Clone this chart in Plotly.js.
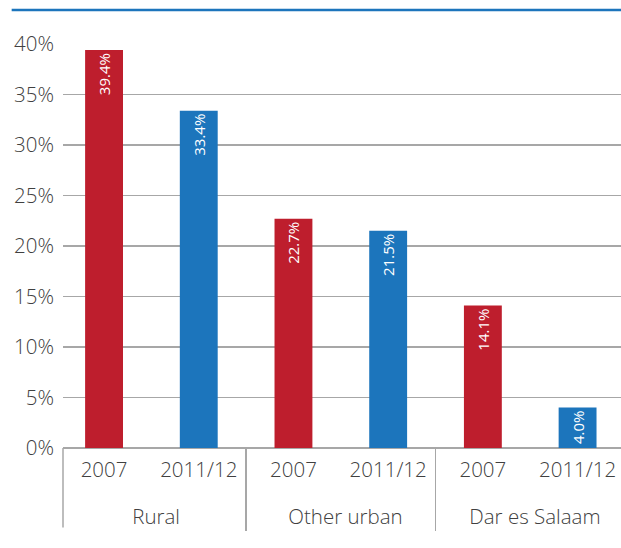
<!DOCTYPE html>
<html>
<head>
<meta charset="utf-8">
<script src="https://cdn.plot.ly/plotly-3.0.1.min.js"></script>
<style>
html,body{margin:0;padding:0;background:#fff;overflow:hidden;}
#chart{width:621px;height:548px;}
</style>
</head>
<body>
<div id="chart"></div>
<script>
// ---- data ----
const groups = ["Rural", "Rural", "Other urban", "Other urban", "Dar es Salaam", "Dar es Salaam"];
const years = ["2007", "2011/12", "2007", "2011/12", "2007", "2011/12"];
const values = [39.4, 33.4, 22.7, 21.5, 14.1, 4.0];
const yTicks = [0, 5, 10, 15, 20, 25, 30, 35, 40];

// ---- style ----
const yearColors = {"2007": "#be1e2d", "2011/12": "#1c75bc"};
const grey = "#a7a7a7";
const textColor = "#404040";
// invisible padding used only to fine-tune where the axis labels sit
const pad = n => "<span style='font-size:18px'>" + "\u00a0".repeat(n) + "</span>";
const spacer = "<br><span style='font-size:14px'>\u00a0</span>";
const yearLabel = y => y + spacer;
const groupLabel = g => pad(2) + g;
const tickFont = {family: "Open Sans", size: 20.5, color: textColor, weight: 300};

const trace = {
  type: "bar",
  x: [groups.map(groupLabel), years.map(yearLabel)],
  y: values,
  width: 0.4,
  marker: {color: years.map(y => yearColors[y])},
  text: values.map(v => v.toFixed(1) + "%"),
  textposition: "inside",
  insidetextanchor: "end",
  textangle: -90,
  textfont: {family: "Open Sans", size: 15, color: "#ffffff"},
  hoverinfo: "none",
  cliponaxis: false
};

const layout = {
  width: 621,
  height: 548,
  margin: {l: 63, r: 0, t: 44, b: 100, pad: 0},
  paper_bgcolor: "#ffffff",
  plot_bgcolor: "#ffffff",
  showlegend: false,
  font: {family: "Open Sans", size: 20.5, color: textColor},
  xaxis: {
    type: "multicategory",
    range: [-0.4335, 5.4585],
    showgrid: false,
    showline: false,
    zeroline: false,
    ticks: "",
    tickangle: 0,
    showdividers: true,
    dividercolor: grey,
    dividerwidth: 1.5,
    ticklabelstandoff: 7,
    tickfont: tickFont,
    fixedrange: true
  },
  yaxis: {
    range: [0, 40],
    tickvals: yTicks,
    ticktext: yTicks.map(t => t + "%"),
    showgrid: true,
    gridcolor: grey,
    gridwidth: 1.5,
    zeroline: true,
    zerolinecolor: grey,
    zerolinewidth: 1.5,
    showline: false,
    ticks: "",
    ticklabelstandoff: 8,
    tickfont: tickFont,
    fixedrange: true
  },
  shapes: [
    { // top rule
      type: "line",
      xref: "paper", yref: "paper",
      x0: -0.092, x1: 1.02,
      y0: 1.084, y1: 1.084,
      line: {color: "#1c75bc", width: 2.5}
    },
    { // left edge of the category label area
      type: "line",
      xref: "paper", yref: "paper",
      x0: 0, x1: 0,
      y0: 0, y1: -0.197,
      line: {color: grey, width: 1.5}
    }
  ]
};

Plotly.newPlot("chart", [trace], layout, {displayModeBar: false, staticPlot: true});
</script>
</body>
</html>
